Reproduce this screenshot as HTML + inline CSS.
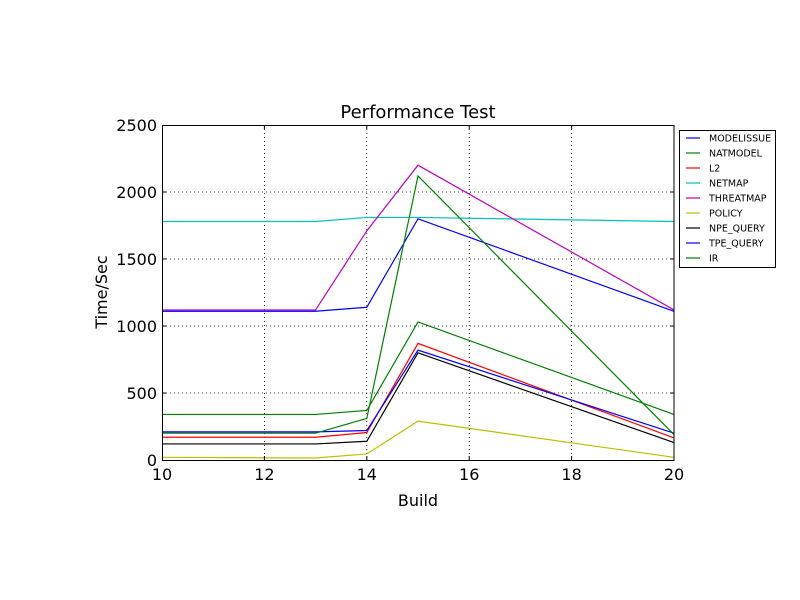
<!DOCTYPE html>
<html><head><style>body{margin:0;background:#fff}svg{display:block}text{font-family:"DejaVu Sans","Liberation Sans",sans-serif}</style></head>
<body>
<svg width="800" height="600" xmlns="http://www.w3.org/2000/svg">
<rect width="800" height="600" fill="#fff"/>
<g stroke="#000" stroke-width="0.8" stroke-dasharray="1,3">
<line x1="264.4" y1="125" x2="264.4" y2="460"/>
<line x1="366.8" y1="125" x2="366.8" y2="460"/>
<line x1="469.2" y1="125" x2="469.2" y2="460"/>
<line x1="571.6" y1="125" x2="571.6" y2="460"/>
<line x1="162" y1="393" x2="674" y2="393"/>
<line x1="162" y1="326" x2="674" y2="326"/>
<line x1="162" y1="259" x2="674" y2="259"/>
<line x1="162" y1="192" x2="674" y2="192"/>
</g>
<g fill="none" stroke-width="1.2" transform="translate(162,460) scale(51.2,-0.134)">
<polyline vector-effect="non-scaling-stroke" stroke="#00f" points="0,1110 3,1110 4,1140 5,1800 10,1110"/>
<polyline vector-effect="non-scaling-stroke" stroke="#008000" points="0,340 3,340 4,370 5,1030 10,340"/>
<polyline vector-effect="non-scaling-stroke" stroke="#f00" points="0,170 3,170 4,205 5,870 10,165"/>
<polyline vector-effect="non-scaling-stroke" stroke="#00bfbf" points="0,1780 3,1780 4,1810 5,1810 10,1780"/>
<polyline vector-effect="non-scaling-stroke" stroke="#bf00bf" points="0,1120 3,1120 4,1710 5,2200 10,1120"/>
<polyline vector-effect="non-scaling-stroke" stroke="#bfbf00" points="0,20 3,15 4,45 5,290 10,20"/>
<polyline vector-effect="non-scaling-stroke" stroke="#000" points="0,120 3,120 4,140 5,800 10,130"/>
<polyline vector-effect="non-scaling-stroke" stroke="#00f" points="0,210 3,210 4,220 5,820 10,200"/>
<polyline vector-effect="non-scaling-stroke" stroke="#008000" points="0,200 3,200 4,310 5,2120 10,190"/>
</g>
<rect x="162.5" y="125.5" width="511.5" height="335" fill="none" stroke="#000" stroke-width="1"/>
<g stroke="#000" stroke-width="1">
<path d="M264.4 460v-4M366.8 460v-4M469.2 460v-4M571.6 460v-4M264.4 125v4M366.8 125v4M469.2 125v4M571.6 125v4"/>
<path d="M162 393h4M162 326h4M162 259h4M162 192h4M674 393h-4M674 326h-4M674 259h-4M674 192h-4"/>
</g>
<g font-size="16" text-anchor="middle">
<text x="162" y="480">10</text><text x="264.4" y="480">12</text><text x="366.8" y="480">14</text><text x="469.2" y="480">16</text><text x="571.6" y="480">18</text><text x="674" y="480">20</text>
</g>
<g font-size="16" text-anchor="end">
<text x="157" y="466">0</text><text x="157" y="399">500</text><text x="157" y="332">1000</text><text x="157" y="265">1500</text><text x="157" y="198">2000</text><text x="157" y="131">2500</text>
</g>
<text x="418" y="118" font-size="18" text-anchor="middle">Performance Test</text>
<text x="418" y="506" font-size="16" text-anchor="middle">Build</text>
<text transform="translate(107,292) rotate(-90)" font-size="16" text-anchor="middle">Time/Sec</text>
<rect x="679.5" y="130.5" width="96" height="137" fill="#fff" stroke="#000" stroke-width="1"/>
<g stroke-width="1.2">
<line x1="686" x2="700" y1="138" y2="138" stroke="#00f"/>
<line x1="686" x2="700" y1="153" y2="153" stroke="#008000"/>
<line x1="686" x2="700" y1="168" y2="168" stroke="#f00"/>
<line x1="686" x2="700" y1="183" y2="183" stroke="#00bfbf"/>
<line x1="686" x2="700" y1="198" y2="198" stroke="#bf00bf"/>
<line x1="686" x2="700" y1="213" y2="213" stroke="#bfbf00"/>
<line x1="686" x2="700" y1="228" y2="228" stroke="#000"/>
<line x1="686" x2="700" y1="243" y2="243" stroke="#00f"/>
<line x1="686" x2="700" y1="258" y2="258" stroke="#008000"/>
</g>
<g font-size="9.5">
<text x="709" y="141.5">MODELISSUE</text><text x="709" y="156.5">NATMODEL</text><text x="709" y="171.5">L2</text><text x="709" y="186.5">NETMAP</text><text x="709" y="201.5">THREATMAP</text><text x="709" y="216.5">POLICY</text><text x="709" y="231.5">NPE_QUERY</text><text x="709" y="246.5">TPE_QUERY</text><text x="709" y="261.5">IR</text>
</g>
</svg>
</body></html>
